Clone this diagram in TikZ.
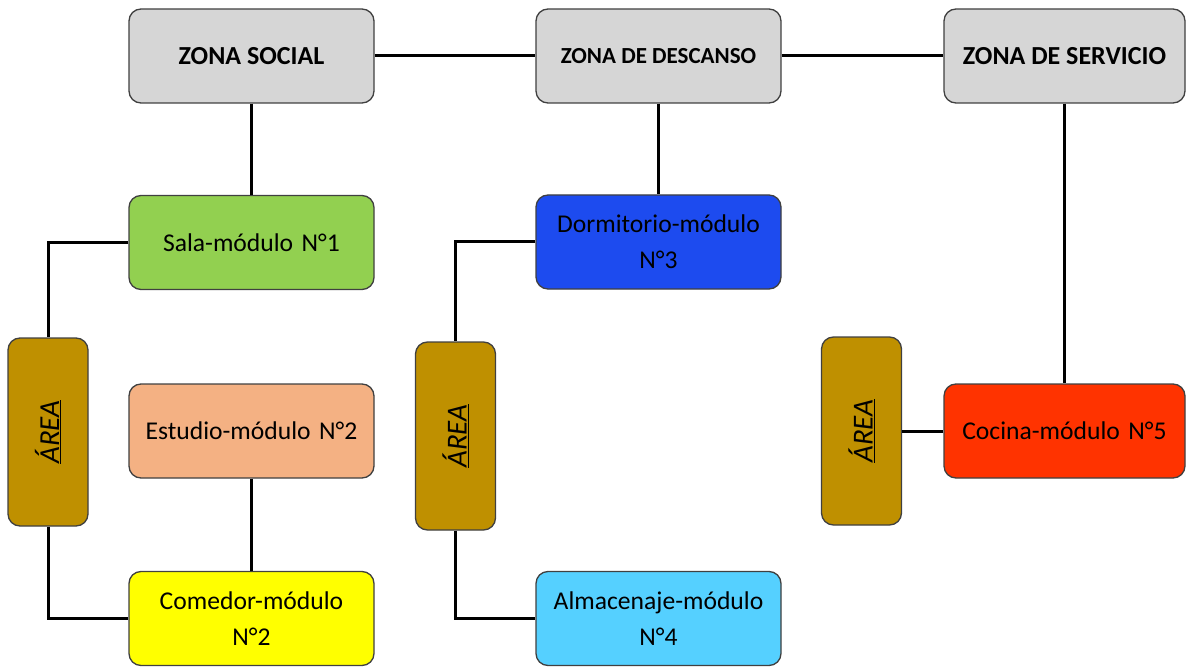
\documentclass[tikz,border=0pt]{standalone}
\usepackage{fontspec}
\usepackage{graphicx}
\setmainfont{Carlito}
\definecolor{zonagray}{HTML}{D6D6D6}
\definecolor{salagreen}{HTML}{92D050}
\definecolor{dormblue}{HTML}{1D4BEF}
\definecolor{estudiosalmon}{HTML}{F4B183}
\definecolor{comedoryellow}{HTML}{FFFF00}
\definecolor{almacblue}{HTML}{55D0FF}
\definecolor{cocinared}{HTML}{FF3300}
\definecolor{areagold}{HTML}{BF9000}
\begin{document}
\begin{tikzpicture}[
        x=1pt, y=-1pt,
        box/.style={draw=black!75, line width=1.3pt, rounded corners=12pt,
            minimum width=245pt, minimum height=94pt, align=center,
            inner sep=2pt, font=\fontsize{25.6}{36}\selectfont},
        zona/.style={box, fill=zonagray, font=\fontsize{26}{31}\selectfont\bfseries},
        modulo/.style={box, text width=236pt},
        areabox/.style={draw=black!75, line width=1.3pt, rounded corners=12pt,
            fill=areagold, minimum width=80pt, minimum height=188pt,
            inner sep=0pt, font=\fontsize{29}{34}\selectfont},
        link/.style={draw, line width=3pt},
    ]
    \useasboundingbox (0,0) rectangle (1186,671);
    % zonas
    \node[zona](zsocial) at (251.5,56){ZONA SOCIAL};
    \node[zona, font=\fontsize{23}{28}\selectfont\bfseries](zdesc) at (658.5,56){ZONA DE DESCANSO};
    \node[zona, minimum width=241pt](zserv) at (1064.5,56){ZONA DE SERVICIO};
    % modulos
    \node[modulo, fill=salagreen](sala) at (251.5,242.5){Sala-módulo N°1};
    \node[modulo, fill=dormblue](dorm) at (658.5,242){Dormitorio-módulo\\N°3};
    \node[modulo, fill=estudiosalmon](estudio) at (251.5,431){Estudio-módulo N°2};
    \node[modulo, fill=cocinared, minimum width=241pt, text width=232pt](cocina) at (1064.5,431){Cocina-módulo N°5};
    \node[modulo, fill=comedoryellow](comedor) at (251.5,618.5){Comedor-módulo\\N°2};
    \node[modulo, fill=almacblue](almac) at (658.5,618.5){Almacenaje-módulo\\N°4};
    % areas
    \node[areabox](area1) at (48,432){\rotatebox{90}{\underline{\itshape ÁREA}}};
    \node[areabox](area2) at (455.5,436){\rotatebox{90}{\underline{\itshape ÁREA}}};
    \node[areabox](area3) at (861.5,431){\rotatebox{90}{\underline{\itshape ÁREA}}};
    % conexiones
    \draw[link] (zsocial) -- (zdesc);
    \draw[link] (zdesc) -- (zserv);
    \draw[link] (zsocial) -- (sala);
    \draw[link] (zdesc) -- (dorm);
    \draw[link] (zserv) -- (cocina);
    \draw[link] (sala.west) -| (area1.north);
    \draw[link] (area1.south) |- (comedor.west);
    \draw[link] (estudio) -- (comedor);
    \draw[link] (dorm.west) -| (area2.north);
    \draw[link] (area2.south) |- (almac.west);
    \draw[link] (cocina) -- (area3);
\end{tikzpicture}
\end{document}
